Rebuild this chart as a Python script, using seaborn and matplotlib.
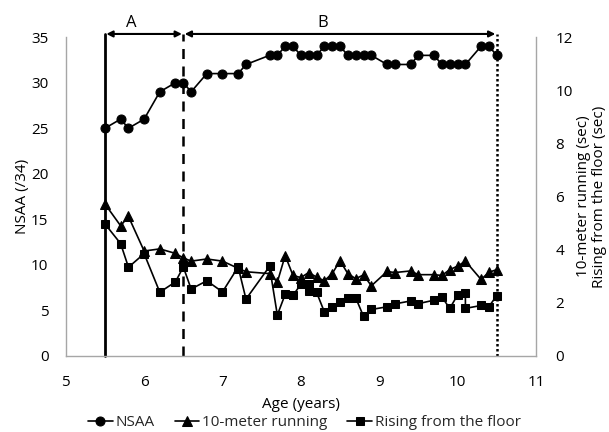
import matplotlib
matplotlib.use("Agg")
import matplotlib.pyplot as plt
import seaborn as sns

# ---- data ----
ages = [5.5, 5.7, 5.8, 6.0, 6.2, 6.4, 6.5, 6.6, 6.8, 7.0, 7.2, 7.3, 7.6, 7.7, 7.8,
        7.9, 8.0, 8.1, 8.2, 8.3, 8.4, 8.5, 8.6, 8.7, 8.8, 8.9, 9.1, 9.2, 9.4, 9.5,
        9.7, 9.8, 9.9, 10.0, 10.1, 10.3, 10.4, 10.5]
nsaa = [25, 26, 25, 26, 29, 30, 30, 29, 31, 31, 31, 32, 33, 33, 34, 34, 33, 33, 33,
        34, 34, 34, 33, 33, 33, 33, 32, 32, 32, 33, 33, 32, 32, 32, 32, 34, 34, 33]
running = [5.72, 4.90, 5.25, 3.95, 4.03, 3.86, 3.69, 3.57, 3.65, 3.57,
           3.30, 3.17, 3.10, 2.78, 3.78, 3.03, 2.95, 3.14, 2.97, 2.83,
           3.10, 3.58, 3.10, 2.91, 3.05, 2.64, 3.18, 3.14, 3.20, 3.06,
           3.06, 3.03, 3.25, 3.38, 3.57, 2.88, 3.15, 3.25]
ages_rising = [5.5, 5.7, 5.8, 6.0, 6.2, 6.4, 6.5, 6.6, 6.8, 7.0, 7.2, 7.3, 7.6, 7.7,
               7.8, 7.9, 8.0, 8.1, 8.1, 8.2, 8.3, 8.4, 8.5, 8.6, 8.7, 8.8, 8.9, 9.1,
               9.2, 9.4, 9.5, 9.7, 9.8, 9.9, 10.0, 10.1, 10.1, 10.3, 10.4, 10.5]
rising = [4.97, 4.23, 3.34, 3.85, 2.40, 2.79, 3.35, 2.52, 2.83, 2.41,
          3.35, 2.14, 3.37, 1.54, 2.32, 2.28, 2.70, 2.72, 2.45, 2.40,
          1.66, 1.86, 2.04, 2.17, 2.19, 1.49, 1.75, 1.85, 1.96, 2.07,
          1.97, 2.10, 2.22, 1.79, 2.29, 2.36, 1.79, 1.90, 1.86, 2.27]

x_ticks = [5, 6, 7, 8, 9, 10, 11]
left_ticks = [0, 5, 10, 15, 20, 25, 30, 35]
right_ticks = [0, 2, 4, 6, 8, 10, 12]
phase_bounds = [5.5, 6.5, 10.5]
phase_labels = ["A", "B"]
phase_label_x = [5.83, 8.28]

sns.set_theme(style="white")
plt.rcParams["font.family"] = ["Open Sans", "DejaVu Sans"]

fig = plt.figure(figsize=(6.09, 4.32), dpi=100)
ax = fig.add_axes([0.108, 0.176, 0.772, 0.738])
ax2 = ax.twinx()

common = dict(color="black", linewidth=1.2, markeredgecolor="black",
              estimator=None, sort=False, legend=False)
sns.lineplot(x=ages, y=nsaa, ax=ax, marker="o", markersize=6.5, label="NSAA", **common)
sns.lineplot(x=ages, y=running, ax=ax2, marker="^", markersize=7, label="10-meter running", **common)
sns.lineplot(x=ages_rising, y=rising, ax=ax2, marker="s", markersize=6, label="Rising from the floor", **common)

ax.set_xlim(5, 11)
ax.set_ylim(0, 35)
ax2.set_ylim(0, 12)
ax.set_xticks(x_ticks)
ax.set_yticks(left_ticks)
ax2.set_yticks(right_ticks)
for a in (ax, ax2):
    a.tick_params(length=0, labelsize=11, colors="black")
    for s in a.spines.values():
        s.set_visible(False)
ax.tick_params(axis="x", pad=14)
ax.tick_params(axis="y", pad=12.5)
ax2.tick_params(axis="y", pad=14)
ax.spines["left"].set_visible(True)
ax.spines["bottom"].set_visible(True)
ax2.spines["right"].set_visible(True)
for s in (ax.spines["left"], ax.spines["bottom"], ax2.spines["right"]):
    s.set_color("#a6a6a6")
    s.set_linewidth(1.0)

ax.set_xlabel("Age (years)", fontsize=11, color="black", labelpad=4.5)
ax.set_ylabel("NSAA (/34)", fontsize=11, color="black", labelpad=0.5)
ax2.set_ylabel("10-meter running (sec)\nRising from the floor (sec)", fontsize=11,
               color="black", labelpad=2, linespacing=1.1)

# phase markers
top = 35.35
ax.plot([phase_bounds[0]] * 2, [0, top], color="black", lw=2.0, clip_on=False, zorder=1)
ax.plot([phase_bounds[1]] * 2, [0, top], color="black", lw=1.8, ls=(0, (4, 3)), clip_on=False, zorder=1)
ax.plot([phase_bounds[2]] * 2, [0, top], color="black", lw=1.8, ls=(0, (1, 1)), clip_on=False, zorder=1)
for i in range(2):
    ax.annotate("", xy=(phase_bounds[i], top), xytext=(phase_bounds[i + 1], top),
                arrowprops=dict(arrowstyle="<|-|>", color="black", lw=1.5,
                                mutation_scale=9, shrinkA=1, shrinkB=1),
                annotation_clip=False)
    ax.text(phase_label_x[i], 36.6, phase_labels[i], ha="center", va="center",
            fontsize=12, color="black", clip_on=False)

h1, l1 = ax.get_legend_handles_labels()
h2, l2 = ax2.get_legend_handles_labels()
fig.legend(h1 + h2, l1 + l2, loc="lower center", ncol=3, frameon=False,
           bbox_to_anchor=(0.5, -0.027), fontsize=11, handlelength=1.6,
           handletextpad=0.2, columnspacing=1.3)

fig.savefig("out.png", dpi=100)
